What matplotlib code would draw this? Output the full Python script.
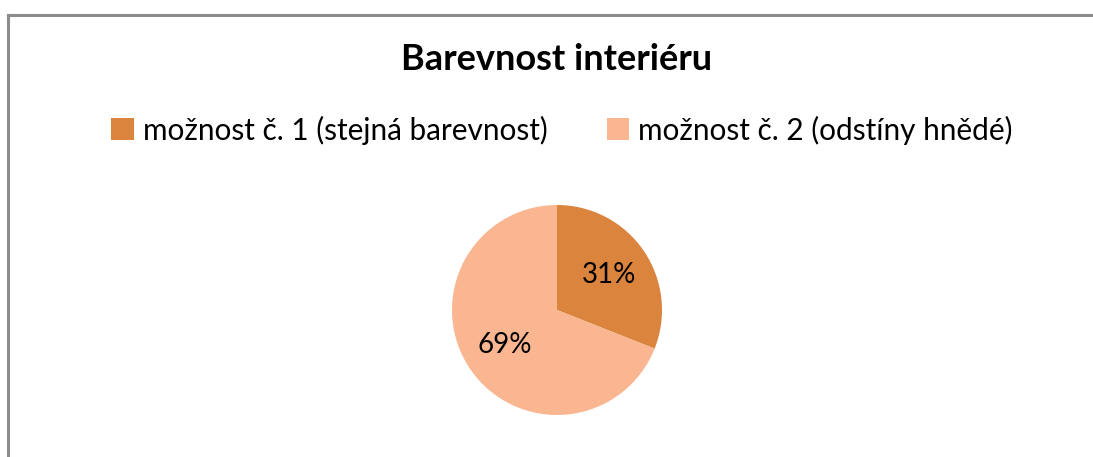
import matplotlib.pyplot as plt
from matplotlib.lines import Line2D

# Chart data
labels = ['možnost č. 1 (stejná barevnost)', 'možnost č. 2 (odstíny hnědé)']
values = [31, 69]
colors = ['#DB843D', '#F9B690']
title = 'Barevnost interiéru'

W, H = 1093, 457
fig = plt.figure(figsize=(W / 100, H / 100), dpi=100)
plt.rcParams['font.family'] = ['Lato', 'DejaVu Sans']

# Chart area border (top and left visible)
fig.add_artist(Line2D([8 / W, 8 / W], [0, 1 - 15 / H], transform=fig.transFigure,
                      color='#8c8c8c', lw=2.2))
fig.add_artist(Line2D([8 / W, 1], [1 - 15 / H, 1 - 15 / H], transform=fig.transFigure,
                      color='#8c8c8c', lw=2.2))

# Pie centred at (557, 310) px with radius 105 px
cx, cy, r = 557, 310, 105
ax = fig.add_axes([(cx - r) / W, (H - cy - r) / H, 2 * r / W, 2 * r / H])
wedges, texts, autotexts = ax.pie(values, colors=colors, startangle=90, counterclock=False,
                                  autopct='%1.0f%%', pctdistance=0.6,
                                  textprops={'fontsize': 20, 'color': 'black'})
ax.set_xlim(-1, 1)
ax.set_ylim(-1, 1)
ax.set_aspect('equal')
ax.axis('off')

fig.text(557 / W, 1 - 60 / H, title, ha='center', va='center',
         fontsize=26, fontweight='bold')

fig.legend(wedges, labels, loc='center', bbox_to_anchor=(562 / W, 1 - 130 / H),
           ncol=2, frameon=False, fontsize=21.4, handlelength=0.75, handleheight=0.75,
           handletextpad=0.3, columnspacing=2.0)

fig.savefig('out.png', dpi=100)
